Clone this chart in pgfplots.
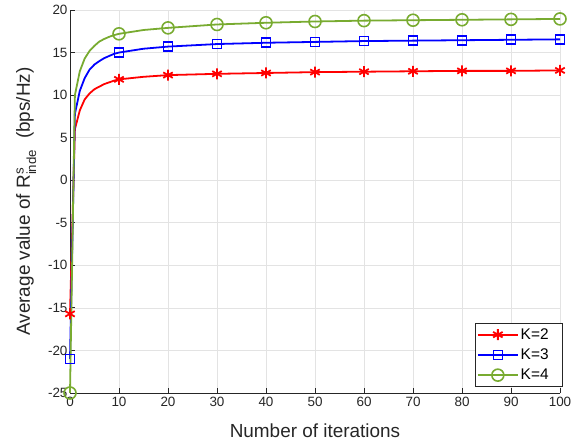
\documentclass[border=0pt]{standalone}
\usepackage{fontspec}
\setmainfont{Liberation Sans}
\usepackage{amsmath}
\usepackage{pgfplots}
\pgfplotsset{compat=1.18}
\usepackage{pgfplotstable}
\definecolor{mgreen}{rgb}{0.47,0.67,0.19}
\definecolor{axgray}{rgb}{0.15,0.15,0.15}
\pgfplotstableread{
x r b g
0 -15.7 -21 -25
1 6.0 7.8 10.0
2 8.2 10.5 12.8
3 9.5 12.0 14.3
4 10.2 13.0 15.2
5 10.7 13.6 15.8
6 11.0 14.0 16.3
7 11.3 14.35 16.6
8 11.5 14.6 16.85
9 11.7 14.85 17.05
10 11.85 15.0 17.2
15 12.15 15.45 17.65
20 12.35 15.7 17.9
30 12.5 16.0 18.3
40 12.6 16.15 18.5
50 12.7 16.25 18.65
60 12.75 16.35 18.75
70 12.8 16.4 18.8
80 12.85 16.45 18.85
90 12.85 16.5 18.9
100 12.9 16.55 18.95
}\data
\begin{document}
\begin{tikzpicture}
\begin{axis}[
  at={(0,0)}, anchor=south west,
  scale only axis, width=490bp, height=383bp,
  xmin=0, xmax=100, ymin=-25, ymax=20,
  xtick={0,10,...,100}, ytick={-25,-20,...,20},
  axis x line=bottom, axis y line=left,
  axis line style={axgray, -, line width=0.8pt},
  tick style={axgray, line width=0.8pt},
  tick align=inside,
  major tick length=5bp,
  grid=major,
  grid style={gray!22, line width=0.6pt},
  ticklabel style={font=\fontsize{13.5}{14}\selectfont, text=axgray},
  xticklabel style={yshift=-1bp},
  yticklabel style={xshift=1bp},
  /pgf/number format/assume math mode=true,
  xlabel={Number of iterations},
  ylabel={Average value of R$^{\text{s}}_{\text{inde}}$\ \ (bps/Hz)},
  xlabel style={font=\fontsize{19}{20}\selectfont, text=axgray, yshift=-10bp},
  ylabel style={font=\fontsize{19}{20}\selectfont, text=axgray, yshift=5bp},
  clip=false,
  legend style={font=\fontsize{15.5}{16}\selectfont, draw=axgray, fill=white, at={(1.006,0.0157)}, anchor=south east, row sep=4bp, inner xsep=2bp, inner ysep=3.5bp, line width=0.6pt},
  legend cell align=left,
  legend image code/.code={\draw[mark indices={2}] plot coordinates {(0bp,0bp) (20bp,0bp) (40bp,0bp)};},
]
\addplot[red, line width=1.8pt, mark=asterisk, mark size=5.5bp, mark options={line width=1.8pt}, mark indices={1,11,13,14,15,16,17,18,19,20,21}] table[x=x,y=r]{\data};
\addlegendentry{K=2\kern10bp}
\addplot[blue, line width=1.8pt, mark=square, mark size=4.5bp, mark options={line width=1.6pt}, mark indices={1,11,13,14,15,16,17,18,19,20,21}] table[x=x,y=b]{\data};
\addlegendentry{K=3\kern10bp}
\addplot[mgreen, line width=1.8pt, mark=o, mark size=6bp, mark options={line width=1.6pt}, mark indices={1,11,13,14,15,16,17,18,19,20,21}] table[x=x,y=g]{\data};
\addlegendentry{K=4\kern10bp}
\end{axis}
\pgfresetboundingbox
\useasboundingbox (-70bp,-48bp) rectangle (514bp,393bp);
\end{tikzpicture}
\end{document}
